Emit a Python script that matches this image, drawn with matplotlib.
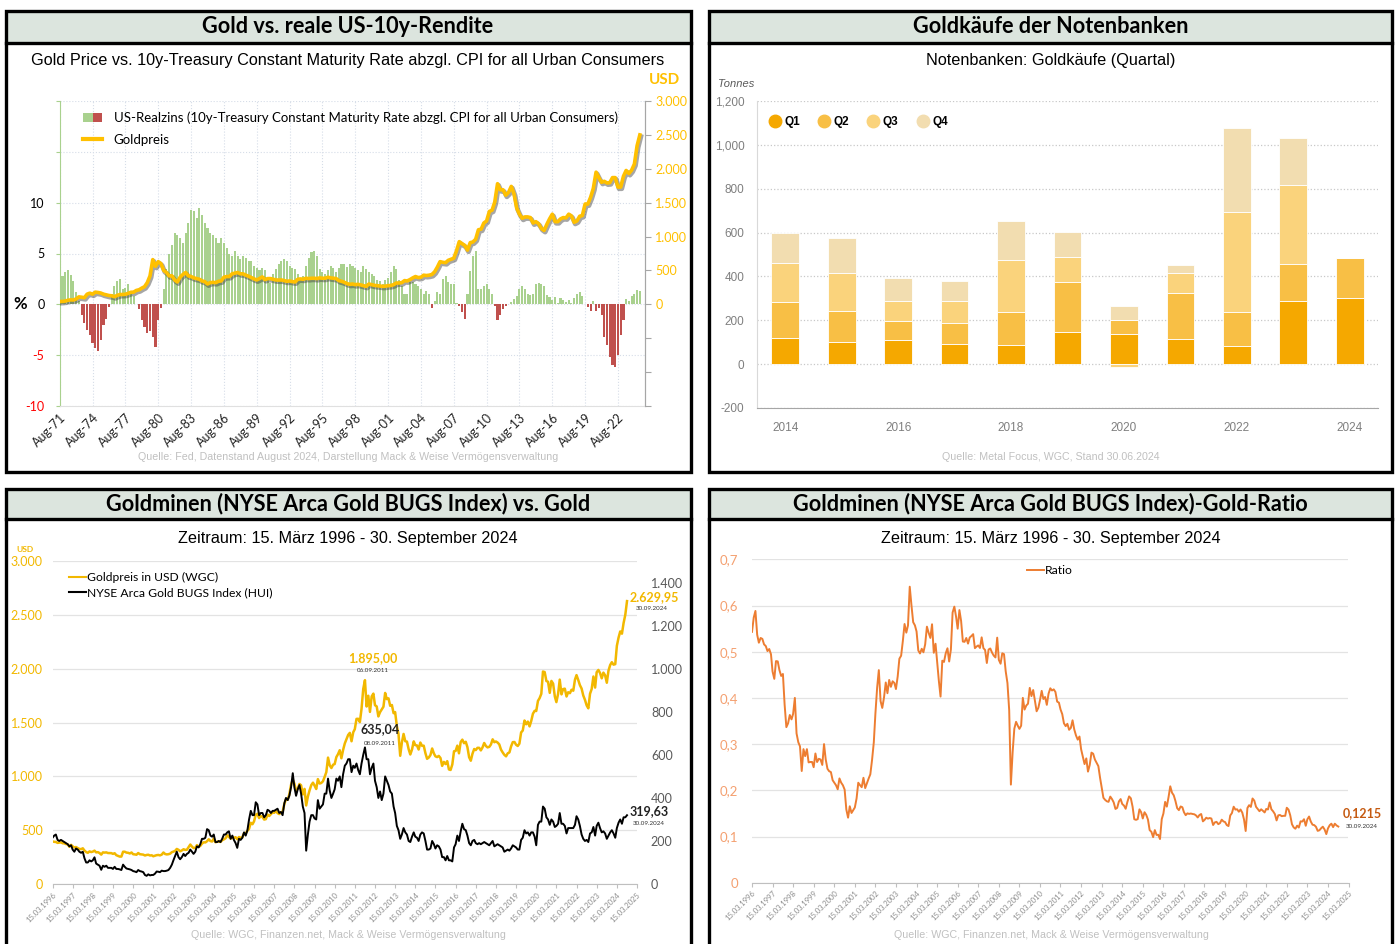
import numpy as np
import pandas as pd
import matplotlib.pyplot as plt
import matplotlib.dates as mdates
import matplotlib.patheffects as pe
from matplotlib.patches import Rectangle
from matplotlib.lines import Line2D
from matplotlib.legend_handler import HandlerTuple

plt.rcParams['font.family'] = ['Lato', 'DejaVu Sans']

# --- Chart 1: US real rate (quarterly, %) and gold (quarterly avg, USD), Aug-71 .. Aug-24
real_rate = [
    2.0, 2.8,
    3.2, 3.4, 2.9, 2.3,   # 1972
    1.2, 0.3, -1.0, -1.8,
    -2.5, -3.0, -3.8, -4.3,
    -4.6, -3.5, -2.0, -1.4,
    -0.3, 1.0, 1.8, 2.3,
    2.5, 1.5, 1.6, 2.0,   # 1977
    1.2, 0.8, 0.0, -0.5,
    -1.5, -2.2, -2.8, -2.6,
    -3.2, -4.2, -1.5, -0.4,
    1.5, 3.5, 5.0, 5.8,
    7.0, 6.8, 6.5, 6.0,   # 1982
    7.0, 8.0, 9.3, 9.2,
    8.5, 9.5, 8.8, 8.0,
    7.5, 7.0, 6.8, 6.5,
    6.0, 6.5, 6.0, 5.5,
    5.0, 4.8, 5.2, 4.8,   # 1987
    4.5, 4.8, 4.6, 4.3,
    4.3, 3.8, 3.6, 3.4,
    3.6, 3.4, 2.4, 2.1,
    3.0, 3.5, 4.0, 4.3,
    4.5, 4.3, 3.8, 3.6,   # 1992
    3.5, 3.0, 2.5, 2.8,
    3.8, 4.6, 5.1, 5.2,
    4.8, 3.5, 3.2, 3.0,
    3.4, 3.8, 3.6, 3.2,
    3.6, 4.0, 4.0, 3.7,   # 1997
    4.0, 3.8, 3.6, 3.4,
    3.2, 3.8, 3.5, 3.2,
    3.0, 2.8, 2.4, 2.3,
    2.0, 2.4, 2.6, 3.2,
    3.8, 3.5, 2.4, 1.8,   # 2002
    1.0, 1.0, 2.2, 2.2,
    2.0, 1.8, 1.5, 1.0,
    1.3, 1.0, -0.4, 0.3,
    1.2, 1.0, 2.5, 2.8,
    2.2, 2.0, 2.0, 0.1,   # 2007
    -0.2, -0.8, -1.4, 1.0,
    3.3, 4.8, 5.2, 1.5,
    1.5, 1.8, 2.0, 1.5,
    1.0, -0.2, -1.5, -1.0,
    -0.5, -0.2, 0.0, 0.2,  # 2012
    0.5, 0.8, 1.5, 1.8,
    1.5, 1.0, 0.9, 1.0,
    2.0, 2.1, 2.0, 1.8,
    0.9, 0.7, 0.4, 0.7,
    0.1, 0.6, 0.4, 0.2,   # 2017
    0.4, 0.1, 0.6, 1.0,
    1.2, 0.8, 0.0, -0.3,
    -0.7, 0.3, -0.7, -0.4,
    -1.0, -3.2, -4.0, -5.2,
    -6.0, -6.2, -5.0, -3.0,  # 2022
    -1.5, 0.5, 0.3, 0.8,
    1.0, 1.4, 1.3,
]
gold_q = [
    42, 43,
    48, 60, 66, 64,
    80, 110, 105, 98,
    150, 165, 150, 180,
    175, 167, 150, 140,
    130, 126, 112, 132,
    145, 145, 148, 162,
    178, 180, 205, 215,
    240, 260, 320, 420,
    660, 560, 630, 600,
    500, 470, 420, 420,
    360, 330, 400, 440,
    470, 420, 410, 390,
    380, 370, 345, 335,
    300, 320, 325, 320,
    340, 345, 400, 410,
    410, 450, 460, 470,
    450, 450, 430, 415,
    395, 375, 360, 380,
    405, 365, 380, 380,
    370, 360, 358, 360,
    350, 340, 345, 335,
    330, 370, 375, 370,
    385, 380, 385, 385,
    380, 390, 385, 385,
    400, 390, 385, 380,
    350, 340, 325, 305,
    295, 300, 290, 295,
    287, 275, 265, 300,
    290, 280, 275, 270,
    265, 268, 275, 278,
    290, 315, 315, 320,
    350, 345, 365, 390,
    410, 395, 400, 430,
    425, 430, 440, 480,
    550, 630, 620, 615,
    650, 665, 680, 790,
    925, 895, 870, 800,
    910, 920, 960, 1100,
    1110, 1200, 1230, 1370,
    1390, 1510, 1780, 1690,
    1690, 1610, 1650, 1740,
    1630, 1420, 1330, 1270,
    1290, 1290, 1280, 1200,
    1220, 1190, 1120, 1090,
    1180, 1260, 1330, 1220,
    1220, 1260, 1280, 1275,
    1330, 1305, 1210, 1230,
    1300, 1310, 1480, 1480,
    1580, 1710, 1950, 1870,
    1800, 1815, 1790, 1795,
    1870, 1870, 1730, 1730,
    1890, 1975, 1930, 1980,
    2070, 2340, 2500,
]

# --- Chart 2: central bank gold purchases (tonnes per quarter)
cb_years = [2014, 2015, 2016, 2017, 2018, 2019, 2020, 2021, 2022, 2023, 2024]
cb_q1 = [118, 103, 109, 94, 88, 147, 139, 114, 82, 286, 300]
cb_q2 = [167, 139, 88, 92, 150, 227, 62, 212, 156, 172, 183]
cb_q3 = [177, 172, 89, 100, 239, 115, -11, 88, 457, 357, 0]
cb_q4 = [136, 162, 106, 93, 178, 114, 64, 36, 384, 215, 0]

# --- Charts 3/4: gold (USD) and HUI, monthly, Mar 1996 .. Sep 2024
gold_m = [
    396, 392, 391, 382, 385, 387, 379, 378, 371, 369,
    346, 364, 350, 340, 344, 334, 326, 324, 332, 311, 297, 290,
    303, 297, 301, 310, 294, 296, 288, 273, 294, 292, 294, 288,
    287, 287, 280, 286, 268, 261, 255, 255, 300, 300, 292, 290,
    284, 293, 277, 275, 272, 288, 277, 275, 273, 265, 270, 272,
    265, 267, 258, 263, 268, 270, 266, 273, 293, 279, 275, 277,
    282, 296, 301, 308, 326, 318, 304, 312, 323, 317, 319, 342,
    367, 347, 334, 336, 361, 346, 354, 375, 388, 386, 398, 416,
    399, 395, 423, 388, 393, 395, 391, 407, 415, 425, 453, 438,
    422, 435, 428, 435, 417, 437, 429, 433, 473, 470, 495, 513,
    569, 556, 582, 644, 653, 613, 633, 623, 599, 603, 646, 632,
    650, 665, 662, 679, 659, 650, 665, 673, 743, 789, 783, 834,
    923, 971, 933, 865, 886, 930, 918, 833, 884, 730, 814, 870,
    919, 942, 916, 883, 975, 934, 939, 955, 996, 1040, 1175, 1104,
    1078, 1109, 1115, 1180, 1207, 1244, 1169, 1246, 1307, 1346, 1386, 1405,
    1327, 1411, 1439, 1535, 1536, 1505, 1628, 1813, 1895, 1650, 1750, 1600,
    1744, 1770, 1662, 1651, 1558, 1598, 1622, 1648, 1776, 1719, 1726, 1657,
    1664, 1588, 1598, 1469, 1394, 1192, 1314, 1395, 1327, 1324, 1253, 1204,
    1251, 1326, 1291, 1288, 1250, 1315, 1285, 1286, 1216, 1164, 1176, 1199,
    1260, 1214, 1187, 1180, 1191, 1171, 1098, 1135, 1115, 1142, 1065, 1060,
    1111, 1234, 1237, 1286, 1215, 1320, 1342, 1309, 1322, 1272, 1178, 1146,
    1212, 1255, 1245, 1266, 1266, 1242, 1269, 1311, 1283, 1270, 1275, 1297,
    1345, 1318, 1325, 1315, 1298, 1250, 1224, 1201, 1187, 1215, 1223, 1279,
    1319, 1320, 1295, 1283, 1305, 1409, 1427, 1520, 1485, 1510, 1465, 1515,
    1583, 1610, 1608, 1702, 1728, 1768, 1975, 1970, 1887, 1880, 1777, 1888,
    1863, 1743, 1691, 1767, 1900, 1763, 1812, 1816, 1743, 1783, 1774, 1806,
    1797, 1900, 1942, 1897, 1849, 1817, 1753, 1712, 1660, 1633, 1769, 1813,
    1929, 1826, 1969, 1990, 1962, 1912, 1965, 1940, 1871, 1983, 2036, 2062,
    2039, 2044, 2214, 2291, 2348, 2327, 2426, 2503, 2629.95,
]
hui_m = [
    215, 225, 230, 205, 200, 205, 200, 195, 190, 185,
    175, 180, 160, 150, 165, 160, 150, 145, 150, 120, 100, 100,
    110, 105, 110, 124, 95, 90, 85, 66, 85, 80, 85, 75,
    75, 75, 70, 80, 70, 70, 68, 65, 90, 80, 72, 70,
    68, 65, 60, 58, 55, 65, 60, 58, 55, 42, 38, 45,
    40, 42, 42, 48, 58, 57, 55, 62, 60, 60, 62, 65,
    75, 90, 110, 130, 150, 125, 115, 125, 140, 130, 140, 145,
    160, 150, 140, 150, 175, 170, 185, 210, 210, 215, 255, 250,
    225, 220, 230, 195, 195, 200, 195, 210, 230, 230, 240, 245,
    210, 225, 205, 190, 168, 210, 205, 215, 240, 225, 250, 300,
    340, 320, 320, 380, 370, 320, 330, 330, 310, 320, 345, 340,
    330, 340, 340, 345, 350, 330, 335, 320, 375, 400, 390, 410,
    450, 515, 450, 410, 440, 460, 420, 360, 330, 155, 230, 290,
    320, 320, 305, 300, 390, 350, 360, 370, 420, 420, 490, 435,
    400, 420, 440, 490, 480, 500, 450, 510, 550, 560, 580, 580,
    520, 550, 540, 560, 530, 510, 560, 600, 635.04, 580, 580, 510,
    540, 560, 480, 450, 400, 430, 390, 420, 500, 480, 460, 430,
    420, 360, 330, 270, 250, 210, 230, 260, 240, 230, 200, 195,
    220, 240, 220, 215, 200, 230, 240, 235, 200, 160, 160, 165,
    200, 185, 165, 180, 175, 160, 125, 125, 110, 130, 110, 110,
    105, 170, 185, 225, 200, 245, 280, 255, 250, 225, 190, 180,
    200, 205, 190, 185, 190, 185, 190, 195, 190, 185, 180, 190,
    200, 175, 180, 185, 180, 175, 170, 150, 155, 160, 155, 165,
    180, 175, 170, 160, 160, 205, 215, 250, 235, 240, 225, 240,
    240, 220, 180, 275, 290, 290, 360, 350, 310, 300, 275, 300,
    290, 265, 270, 280, 330, 280, 280, 270, 235, 260, 260, 260,
    260, 275, 315, 300, 270, 230, 210, 200, 205, 195, 235, 240,
    265, 225, 270, 285, 260, 240, 245, 235, 210, 225, 240, 250,
    235, 215, 260, 285, 300, 280, 310, 310, 319.63,
]

W, H = 1395, 944
fig = plt.figure(figsize=(W / 100, H / 100), dpi=100)


def rect(l, t, r, b):
    return [l / W, 1 - b / H, (r - l) / W, (b - t) / H]


def de(v, dec=0):
    s = f"{v:,.{dec}f}"
    return s.replace(',', 'X').replace('.', ',').replace('X', '.')


def panel(x0, y0, x1, y1, hb, title):
    fig.add_artist(Rectangle((x0 / W, 1 - hb / H), (x1 - x0) / W, (hb - y0) / H,
                             transform=fig.transFigure, fc='#dce5de', ec='none'))
    fig.add_artist(Line2D([x0 / W, x1 / W], [1 - hb / H, 1 - hb / H],
                          transform=fig.transFigure, color='black', lw=2.4))
    fig.add_artist(Rectangle((x0 / W, 1 - y1 / H), (x1 - x0) / W, (y1 - y0) / H,
                             transform=fig.transFigure, fill=False, ec='black', lw=2.4))
    fig.text((x0 + x1) / 2 / W, 1 - (y0 + hb) / 2 / H, title, ha='center', va='center',
             weight='bold', fontsize=15.6)


def ftext(x, y, s, **kw):
    fig.text(x / W, 1 - y / H, s, **kw)


ARIAL = ['Liberation Sans', 'DejaVu Sans']
NARROW = ['Liberation Sans Narrow', 'Liberation Sans', 'DejaVu Sans']
SUB = 11.7
SRC = 7.7

panel(5.5, 10.5, 690.5, 471.5, 42.5, 'Gold vs. reale US-10y-Rendite')
panel(709, 10.5, 1392, 471.5, 42.5, 'Goldkäufe der Notenbanken')
panel(5.5, 488.5, 690.5, 960, 519, 'Goldminen (NYSE Arca Gold BUGS Index) vs. Gold')
panel(709, 488.5, 1392, 960, 519, 'Goldminen (NYSE Arca Gold BUGS Index)-Gold-Ratio')

# ================= Chart 1 =================
ftext(348, 60, 'Gold Price vs. 10y-Treasury Constant Maturity Rate abzgl. CPI for all Urban Consumers',
      ha='center', va='center', fontsize=SUB, family=ARIAL)
ftext(665, 80, 'USD', ha='center', va='center', fontsize=11, weight='bold', color='#ffc000')
ftext(20, 304, '%', ha='center', va='center', fontsize=12, weight='bold')
ftext(348, 457, 'Quelle: Fed, Datenstand August 2024, Darstellung Mack & Weise Vermögensverwaltung',
      ha='center', va='center', fontsize=SRC, color='#c0c0c0', family=ARIAL)

ax1 = fig.add_axes(rect(59.7, 101, 645, 406))
dq = pd.date_range('1971-08-01', periods=len(real_rate), freq='3MS')
rr = np.array(real_rate)
ax1.bar(dq, rr, width=70, color=np.where(rr >= 0, '#a9d18e', '#c0504d'), lw=0, zorder=2)
ax1.set_ylim(-10, 20)
ax1.set_yticks(range(-10, 21, 5))
ax1.set_yticklabels(['-10', '-5', '0', '5', '10', '', ''], fontsize=9)
for lbl in ax1.get_yticklabels()[:2]:
    lbl.set_color('#ff0000')
ax1.set_xlim(pd.Timestamp('1971-08-01'), pd.Timestamp('2025-01-20'))
ax1.set_xticks(pd.date_range('1971-08-01', '2022-08-01', freq='36MS'))
ax1.xaxis.set_major_formatter(mdates.DateFormatter('%b-%y'))
plt.setp(ax1.get_xticklabels(), rotation=45, ha='right', rotation_mode='anchor', fontsize=9, color='#222222')
ax1.tick_params(axis='y', length=3, color='#a9d18e', pad=8)
ax1.tick_params(axis='x', length=0, pad=4)
ax1.grid(True, ls=':', color='#d6dde8', lw=0.8, zorder=0)
ax1.set_axisbelow(True)
ax1.spines['top'].set_visible(False)
ax1.spines['left'].set_color('#a9d18e')
ax1.spines['right'].set_color('#a6a6a6')
ax1.spines['bottom'].set_color('#e0e0e0')

ax1b = ax1.twinx()
ax1b.plot(pd.date_range('1971-08-01', periods=len(gold_q), freq='3MS'), gold_q, color='#ffc000', lw=2.6,
          path_effects=[pe.SimpleLineShadow(offset=(0.8, -1.2), shadow_color='#3a3a3a', alpha=0.45, linewidth=3.4),
                        pe.Normal()], zorder=3)
ax1b.set_ylim(-1500, 3000)
ax1b.set_yticks(range(-1500, 3001, 500))
ax1b.set_yticklabels(['' if v < 0 else de(v) for v in range(-1500, 3001, 500)], fontsize=9, color='#ffc000')
ax1b.tick_params(axis='y', length=4, color='#a6a6a6')
for s in ['top', 'left', 'bottom']:
    ax1b.spines[s].set_visible(False)
ax1b.spines['right'].set_color('#a6a6a6')

h1 = (Rectangle((0, 0), 1, 1, fc='#a9d18e'), Rectangle((0, 0), 1, 1, fc='#c0504d'))
h2 = Line2D([], [], color='#ffc000', lw=3)
ax1b.legend([h1, h2], ['US-Realzins (10y-Treasury Constant Maturity Rate abzgl. CPI for all Urban Consumers)',
                       'Goldpreis'],
            handler_map={tuple: HandlerTuple(ndivide=None, pad=0)}, loc='upper left',
            bbox_to_anchor=(0.02, 1.005), frameon=False, fontsize=9.5, handlelength=1.4,
            handletextpad=0.9, labelspacing=0.75)

# ================= Chart 2 =================
ftext(1051, 60, 'Notenbanken: Goldkäufe (Quartal)', ha='center', va='center', fontsize=SUB, family=ARIAL)
ftext(718, 84, 'Tonnes', ha='left', va='center', fontsize=8, style='italic', color='#595959', family=NARROW)
ftext(1051, 457, 'Quelle: Metal Focus, WGC, Stand 30.06.2024', ha='center', va='center',
      fontsize=SRC, color='#c0c0c0', family=ARIAL)

ax2 = fig.add_axes(rect(757, 101, 1378, 408))
qcols = ['#f5a800', '#f8bf45', '#fad37c', '#f2ddb0']
pos = np.zeros(len(cb_years))
neg = np.zeros(len(cb_years))
for vals, c in zip([cb_q1, cb_q2, cb_q3, cb_q4], qcols):
    v = np.array(vals, dtype=float)
    bottom = np.where(v >= 0, pos, neg)
    ax2.bar(cb_years, v, bottom=bottom, width=0.49, color=c, ec='white', lw=0.6, zorder=2)
    pos = pos + np.where(v >= 0, v, 0)
    neg = neg + np.where(v < 0, v, 0)
ax2.set_xlim(2013.5, 2024.5)
ax2.set_ylim(-200, 1200)
ax2.set_yticks(range(-200, 1201, 200))
ax2.set_yticklabels([f"{v:,}" for v in range(-200, 1201, 200)], fontsize=8.5, color='#7f7f7f', family=NARROW)
ax2.set_xticks(range(2014, 2025, 2))
ax2.set_xticklabels([str(y) for y in range(2014, 2025, 2)], fontsize=8.5, color='#7f7f7f', family=NARROW)
ax2.tick_params(length=0, pad=10)
ax2.tick_params(axis='y', pad=9)
ax2.grid(True, axis='y', ls=':', color='#c8c8c8', lw=0.9, zorder=0)
ax2.set_axisbelow(True)
for s in ['top', 'right']:
    ax2.spines[s].set_visible(False)
ax2.spines['left'].set_color('#d9d9d9')
ax2.spines['bottom'].set_color('#a6a6a6')
ax2.legend([Line2D([], [], ls='none', marker='o', ms=9, mfc=c, mec=c) for c in qcols],
           ['Q1', 'Q2', 'Q3', 'Q4'], loc='upper left', bbox_to_anchor=(0.0, 0.985), ncol=4, frameon=False,
           handletextpad=0.2, columnspacing=1.45, handlelength=1.2,
           prop=dict(family=NARROW, weight='bold', size=8.5))

# ================= Chart 3 =================
dm = pd.date_range('1996-03-15', periods=len(gold_m), freq=pd.DateOffset(months=1))
xt = [pd.Timestamp(f'{y}-03-15') for y in range(1996, 2026)]
GOLD = '#f2b800'

ftext(348, 538, 'Zeitraum: 15. März 1996 - 30. September 2024', ha='center', va='center',
      fontsize=SUB, family=ARIAL)
ftext(16, 549, 'USD', ha='left', va='center', fontsize=6, weight='bold', color=GOLD)
ftext(348, 935, 'Quelle: WGC, Finanzen.net, Mack & Weise Vermögensverwaltung', ha='center', va='center',
      fontsize=SRC, color='#c0c0c0', family=ARIAL)

ax3 = fig.add_axes(rect(52.5, 561.3, 637, 884))
ax3.plot(dm, gold_m, color=GOLD, lw=1.8, label='Goldpreis in USD (WGC)')
ax3.set_ylim(0, 3000)
ax3.set_yticks(range(0, 3001, 500))
ax3.set_yticklabels([de(v) for v in range(0, 3001, 500)], fontsize=9, color=GOLD)
ax3.set_xlim(xt[0], xt[-1])
ax3.set_xticks(xt)
ax3.xaxis.set_major_formatter(mdates.DateFormatter('%d.%m.%Y'))
plt.setp(ax3.get_xticklabels(), rotation=45, ha='right', rotation_mode='anchor', fontsize=5.5, color='#8c8c8c')
ax3.tick_params(axis='y', length=0, pad=7)
ax3.tick_params(axis='x', length=3, color='#bfbfbf', pad=2)
ax3.grid(True, axis='y', color='#e3e3e3', lw=0.9)
ax3.set_axisbelow(True)
for s in ['top', 'right', 'left']:
    ax3.spines[s].set_visible(False)
ax3.spines['bottom'].set_color('#bfbfbf')

ax3b = ax3.twinx()
ax3b.plot(dm, hui_m, color='black', lw=1.4, label='NYSE Arca Gold BUGS Index (HUI)')
ax3b.set_ylim(0, 1500)
ax3b.set_yticks(range(0, 1401, 200))
ax3b.set_yticklabels([de(v) for v in range(0, 1401, 200)], fontsize=9, color='#595959')
ax3b.tick_params(axis='y', length=0, pad=10)
for s in ax3b.spines.values():
    s.set_visible(False)

ax3b.legend([Line2D([], [], color=GOLD, lw=1.5), Line2D([], [], color='black', lw=1.5)],
            ['Goldpreis in USD (WGC)', 'NYSE Arca Gold BUGS Index (HUI)'], loc='upper left',
            bbox_to_anchor=(0.01, 1.0), frameon=False, fontsize=8.7, handlelength=1.4,
            handletextpad=0.1, labelspacing=0.3)

early = dm < pd.Timestamp('2012-01-01')
ig = int(np.argmax(np.where(early, gold_m, 0)))
ax3.annotate(de(gold_m[ig], 2), (dm[ig], gold_m[ig]), xytext=(6, 16), textcoords='offset points',
             ha='center', va='center', fontsize=9, weight='bold', color=GOLD)
ax3.annotate('06.09.2011', (dm[ig], gold_m[ig]), xytext=(6, 7), textcoords='offset points',
             ha='center', va='center', fontsize=4.5, color='#333333')
ih = int(np.argmax(hui_m))
ax3b.annotate(de(hui_m[ih], 2), (dm[ih], hui_m[ih]), xytext=(11, 13), textcoords='offset points',
              ha='center', va='center', fontsize=9, weight='bold', color='#222222')
ax3b.annotate('08.09.2011', (dm[ih], hui_m[ih]), xytext=(11, 3), textcoords='offset points',
              ha='center', va='center', fontsize=4.5, color='#333333')
ax3.annotate(de(gold_m[-1], 2), (dm[-1], gold_m[-1]), xytext=(2, 3), textcoords='offset points',
             ha='left', va='center', fontsize=9, weight='bold', color=GOLD)
ax3.annotate('30.09.2024', (dm[-1], gold_m[-1]), xytext=(6, -5), textcoords='offset points',
             ha='left', va='center', fontsize=4.5, color='#333333')
ax3b.annotate(de(hui_m[-1], 2), (dm[-1], hui_m[-1]), xytext=(2, 3), textcoords='offset points',
              ha='left', va='center', fontsize=9, weight='bold', color='#222222')
ax3b.annotate('30.09.2024', (dm[-1], hui_m[-1]), xytext=(4, -6), textcoords='offset points',
              ha='left', va='center', fontsize=4.5, color='#333333')

# ================= Chart 4 =================
ratio = np.array(hui_m) / np.array(gold_m)
ORANGE = '#ed7d31'
ftext(1051, 538, 'Zeitraum: 15. März 1996 - 30. September 2024', ha='center', va='center',
      fontsize=SUB, family=ARIAL)
ftext(1051, 935, 'Quelle: WGC, Finanzen.net, Mack & Weise Vermögensverwaltung', ha='center', va='center',
      fontsize=SRC, color='#c0c0c0', family=ARIAL)

ax4 = fig.add_axes(rect(752, 559.3, 1348.5, 882.7))
ax4.plot(dm, ratio, color=ORANGE, lw=1.4, label='Ratio')
ax4.set_ylim(0, 0.7)
ax4.set_yticks(np.arange(0, 0.71, 0.1))
ax4.set_yticklabels(['0'] + [de(v, 1) for v in np.arange(0.1, 0.71, 0.1)], fontsize=9.5, color='#f4a070')
ax4.set_xlim(xt[0], xt[-1])
ax4.set_xticks(xt)
ax4.xaxis.set_major_formatter(mdates.DateFormatter('%d.%m.%Y'))
plt.setp(ax4.get_xticklabels(), rotation=45, ha='right', rotation_mode='anchor', fontsize=5.5, color='#8c8c8c')
ax4.tick_params(axis='y', length=0, pad=10)
ax4.tick_params(axis='x', length=3, color='#bfbfbf', pad=2)
ax4.grid(True, axis='y', color='#e3e3e3', lw=0.9)
ax4.set_axisbelow(True)
for s in ['top', 'right', 'left']:
    ax4.spines[s].set_visible(False)
ax4.spines['bottom'].set_color('#bfbfbf')
ax4.legend(loc='upper center', bbox_to_anchor=(0.5, 1.015), frameon=False, fontsize=8.7,
           handlelength=1.4, handletextpad=0.1)
ax4.annotate(de(ratio[-1], 4), (dm[-1], ratio[-1]), xytext=(3, 10), textcoords='offset points',
             ha='left', va='center', fontsize=9, weight='bold', color='#c55a11')
ax4.annotate('30.09.2024', (dm[-1], ratio[-1]), xytext=(5, 0), textcoords='offset points',
             ha='left', va='center', fontsize=4.5, color='#333333')

fig.savefig('out.png', dpi=100)
